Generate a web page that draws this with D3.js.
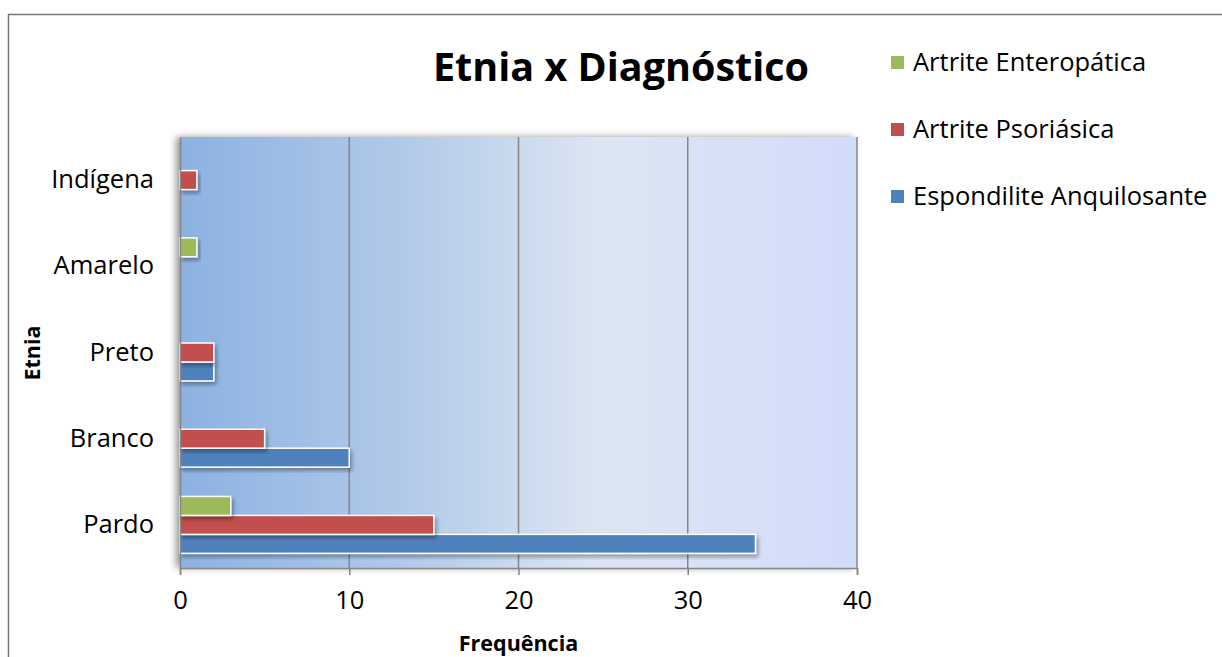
<!DOCTYPE html>
<html lang="pt">
<head>
<meta charset="UTF-8">
<title>Etnia x Diagnóstico</title>
<style>
    body { margin: 0; background: #fff; }
    svg { display: block; font-family: "Open Sans", sans-serif; }
</style>
</head>
<body>
<svg id="chart" width="1222" height="657"></svg>
<script src="https://d3js.org/d3.v7.min.js"></script>
<script>
// data
const categories = ["Pardo", "Branco", "Preto", "Amarelo", "Indígena"];
const series = ["Espondilite Anquilosante", "Artrite Psoriásica", "Artrite Enteropática"];
const espondilite = [34, 10, 2, 0, 0];
const psoriasica = [15, 5, 2, 0, 1];
const enteropatica = [3, 0, 0, 1, 0];
const colors = ["#4f81bd", "#c0504d", "#9bbb59"];
const xTicks = [0, 10, 20, 30, 40];

const values = [espondilite, psoriasica, enteropatica];

const svg = d3.select("#chart");
const margin = { top: 137, left: 180, right: 365, bottom: 89 };
const width = 1222 - margin.left - margin.right;
const height = 657 - margin.top - margin.bottom;

const defs = svg.append("defs");
const grad = defs.append("linearGradient").attr("id", "bg");
grad.append("stop").attr("offset", "0%").attr("stop-color", "#8cb2e2");
grad.append("stop").attr("offset", "35%").attr("stop-color", "#b4cbe9");
grad.append("stop").attr("offset", "62%").attr("stop-color", "#dce6f2");
grad.append("stop").attr("offset", "100%").attr("stop-color", "#d2dcfb");

const sh = defs.append("filter").attr("id", "shadow")
    .attr("x", "-10%").attr("y", "-10%").attr("width", "130%").attr("height", "140%");
sh.append("feDropShadow").attr("dx", 2).attr("dy", 3).attr("stdDeviation", 2)
    .attr("flood-color", "#000").attr("flood-opacity", 0.35);

const psh = defs.append("filter").attr("id", "pshadow")
    .attr("x", "-5%").attr("y", "-5%").attr("width", "110%").attr("height", "110%");
psh.append("feDropShadow").attr("dx", -4).attr("dy", 0).attr("stdDeviation", 3.5)
    .attr("flood-color", "#000").attr("flood-opacity", 0.4);

// chart frame
svg.append("rect").attr("x", 8.5).attr("y", 14.5).attr("width", 1230).attr("height", 660)
    .attr("fill", "none").attr("stroke", "#767676").attr("stroke-width", 1.5);

const g = svg.append("g").attr("transform", `translate(${margin.left},${margin.top})`);

const x = d3.scaleLinear().domain([0, 40]).range([0, width]);
const y = d3.scaleBand().domain(categories).range([height, 0]).paddingInner(0.34).paddingOuter(0.17);
const inner = d3.scaleBand().domain(series).range([y.bandwidth(), 0]);

g.append("rect").attr("width", width).attr("height", height)
    .attr("fill", "url(#bg)").attr("filter", "url(#pshadow)");

// gridlines
g.selectAll(".grid").data(xTicks.slice(1)).enter().append("line")
    .attr("x1", d => x(d)).attr("x2", d => x(d))
    .attr("y1", 0).attr("y2", height)
    .attr("stroke", "#868686").attr("stroke-width", 1.5);

// bars
series.forEach((s, i) => {
    g.selectAll(".bar" + i)
        .data(categories.map((c, j) => ({ c, v: values[i][j] })).filter(d => d.v > 0))
        .enter().append("rect")
        .attr("x", 0)
        .attr("y", d => y(d.c) + inner(s))
        .attr("width", d => x(d.v))
        .attr("height", inner.bandwidth())
        .attr("fill", colors[i])
        .attr("stroke", "#fff").attr("stroke-width", 1.5)
        .attr("filter", "url(#shadow)");
});

// axes
const xAxis = g.append("g").attr("transform", `translate(0,${height})`)
    .call(d3.axisBottom(x).tickValues(xTicks).tickSize(7).tickPadding(16));
const yAxis = g.append("g")
    .call(d3.axisLeft(y).tickSize(0).tickPadding(26));
[xAxis, yAxis].forEach(a => {
    a.select(".domain").attr("stroke", "#868686").attr("stroke-width", 1.5);
    a.selectAll(".tick line").attr("stroke", "#868686").attr("stroke-width", 1.5);
    a.selectAll("text").attr("font-family", "'Open Sans', sans-serif")
        .attr("font-size", 25.5).attr("fill", "#000");
});

// titles
svg.append("text").attr("x", 621).attr("y", 81).attr("text-anchor", "middle")
    .attr("font-size", 39.5).attr("font-weight", "bold").text("Etnia x Diagnóstico");
svg.append("text").attr("x", margin.left + width / 2).attr("y", 651).attr("text-anchor", "middle")
    .attr("font-size", 21.5).attr("font-weight", "bold").text("Frequência");
svg.append("text").attr("transform", "translate(40,353) rotate(-90)").attr("text-anchor", "middle")
    .attr("font-size", 21.5).attr("font-weight", "bold").text("Etnia");

// legend (reverse order, green first)
const legendItems = series.map((s, i) => ({ s, c: colors[i] })).reverse();
const lg = svg.append("g").attr("transform", "translate(891,0)");
legendItems.forEach((d, i) => {
    const yy = 62 + i * 67;
    lg.append("rect").attr("x", 0).attr("y", yy - 6).attr("width", 13).attr("height", 13).attr("fill", d.c);
    lg.append("text").attr("x", 22).attr("y", yy).attr("dy", "0.35em")
        .attr("font-size", 25.5).text(d.s);
});
</script>
</body>
</html>
